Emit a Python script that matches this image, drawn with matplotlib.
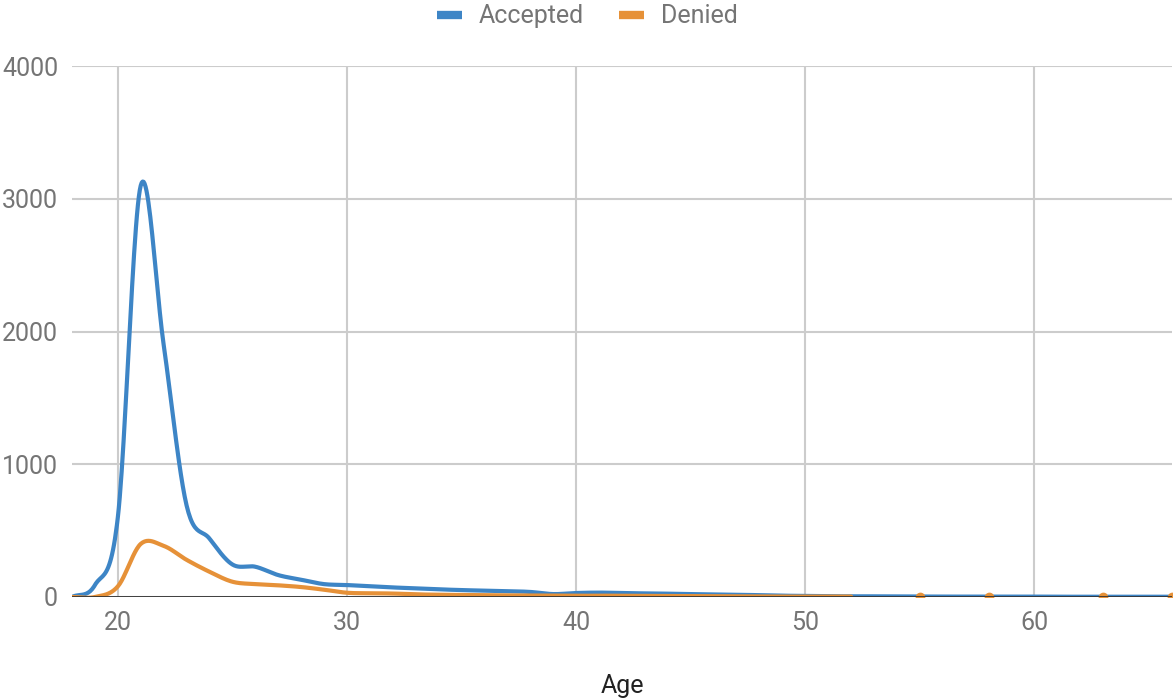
import numpy as np
import matplotlib
matplotlib.use("Agg")
import matplotlib.pyplot as plt
from matplotlib.lines import Line2D

plt.rcParams["font.family"] = ["Roboto", "DejaVu Sans"]
plt.rcParams["ytick.major.pad"] = 10

# Data (count of applicants per age)
ages = np.arange(18, 67)
accepted = [0, 90, 600, 3100, 1900, 690, 440, 245, 228, 165, 130, 97, 90, 80, 72,
            65, 58, 52, 48, 44, 38, 22, 30, 33, 30, 27, 25, 22, 19, 16, 14, 10, 8,
            6, 5, 5, 4, 4, 3, 3, 3, 3, 3, 2, 2, 2, 2, 2, 2]
denied = [0, 0, 80, 400, 385, 280, 190, 115, 97, 88, 75, 55, 32, 28, 26, 20, 17,
          15, 13, 12, 11, 10, 9, 10, 9, 8, 7, 6, 5, 5, 4, 3, 3, 3, 3,
          np.nan, np.nan, 3, np.nan, np.nan, 3, np.nan, np.nan, np.nan, np.nan, 3,
          np.nan, np.nan, 3]
x_ticks = [20, 30, 40, 50, 60]
y_ticks = [0, 1000, 2000, 3000, 4000]

BLUE = "#3d85c6"
ORANGE = "#e69138"


def smooth_runs(x, y, n=24):
    """Split on NaN gaps and draw each run as a Catmull-Rom style curve."""
    x = np.asarray(x, float)
    y = np.asarray(y, float)
    ok = ~np.isnan(y)
    runs, singles = [], []
    idx = np.flatnonzero(ok)
    start = 0
    for i in range(1, len(idx) + 1):
        if i == len(idx) or idx[i] != idx[i - 1] + 1:
            seg = idx[start:i]
            if len(seg) == 1:
                singles.append(seg[0])
            else:
                xs, ys = x[seg], y[seg]
                m = np.gradient(ys, xs)
                px, py = [], []
                t = np.linspace(0, 1, n, endpoint=False)
                for k in range(len(xs) - 1):
                    h = xs[k + 1] - xs[k]
                    h00 = 2 * t**3 - 3 * t**2 + 1
                    h10 = t**3 - 2 * t**2 + t
                    h01 = -2 * t**3 + 3 * t**2
                    h11 = t**3 - t**2
                    px.append(xs[k] + t * h)
                    py.append(h00 * ys[k] + h10 * h * m[k] + h01 * ys[k + 1] + h11 * h * m[k + 1])
                px.append([xs[-1]])
                py.append([ys[-1]])
                runs.append((np.concatenate(px), np.concatenate(py)))
            start = i
    return runs, x[singles], y[singles]


fig = plt.figure(figsize=(11.74, 6.98), dpi=100)
ax = fig.add_axes([72 / 1174, 101 / 698, 1100 / 1174, 531 / 698])

for series, color in [(accepted, BLUE), (denied, ORANGE)]:
    runs, sx, sy = smooth_runs(ages, series)
    for rx, ry in runs:
        ax.plot(rx, ry, color=color, lw=3, solid_capstyle="round", zorder=3)
    if len(sx):
        ax.plot(sx, sy, "o", color=color, ms=6, zorder=3)

ax.axhline(0, color="#333333", lw=2, zorder=4)

ax.set_xlim(18, 66)
ax.set_ylim(0, 4000)
ax.set_xticks(x_ticks)
ax.set_yticks(y_ticks)
ax.grid(True, color="#cccccc", lw=1.5)
ax.set_axisbelow(True)
for s in ax.spines.values():
    s.set_visible(False)
ax.tick_params(axis="both", length=0, labelsize=18, labelcolor="#757575")
ax.tick_params(axis="x", labelbottom=False)

# x tick labels, baseline placed just under the axis line
xt = ax.get_xaxis_transform()
for v in x_ticks:
    ax.text(v, -0.062, str(v), transform=xt, ha="center", va="baseline",
            fontsize=18, color="#757575", clip_on=False)

ax.set_xlabel("Age", fontsize=18, color="#222222", va="baseline")
ax.xaxis.set_label_coords(0.5, -0.181)

handles = [Line2D([], [], color=BLUE, lw=6, solid_capstyle="butt"),
           Line2D([], [], color=ORANGE, lw=6, solid_capstyle="butt")]
fig.legend(handles, ["Accepted", "Denied"], loc="upper center",
           bbox_to_anchor=(0.5, 1.026), ncol=2, frameon=False, fontsize=18,
           labelcolor="#757575", handlelength=1.0, handletextpad=0.68,
           columnspacing=1.4)

fig.savefig("out.png", dpi=100)
plt.close(fig)
